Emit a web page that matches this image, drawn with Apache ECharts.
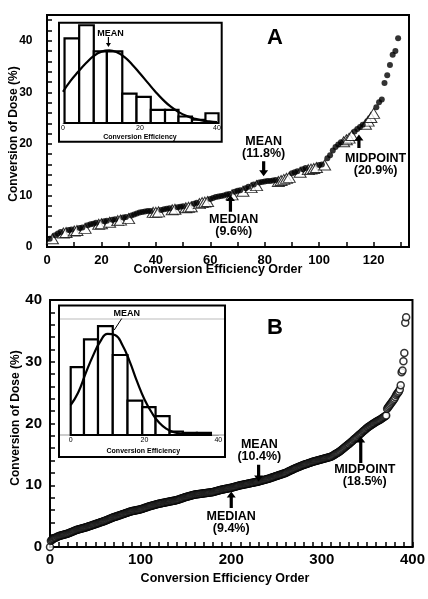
<!DOCTYPE html>
<html><head><meta charset="utf-8">
<script src="https://cdn.jsdelivr.net/npm/echarts/dist/echarts.min.js"></script>
<style>html,body{margin:0;padding:0;background:#fff}#c{width:428px;height:599px}</style>
</head><body><div id="c"></div>
<script>
// ---------- Panel A main scatter (order 1..129) ----------
const aValues = [
 1.6,2.0,2.3,2.6,2.9,3.1,3.2,3.3,3.4,3.5,
 3.6,3.7,3.8,4.0,4.2,4.4,4.5,4.7,4.8,4.9,
 5.0,5.1,5.2,5.3,5.4,5.5,5.6,5.7,5.8,5.9,
 6.1,6.3,6.5,6.7,6.8,6.9,7.0,7.0,7.1,7.1,
 7.2,7.2,7.3,7.4,7.5,7.6,7.7,7.7,7.8,7.9,
 8.0,8.1,8.2,8.4,8.6,8.8,9.0,9.1,9.2,9.3,
 9.5,9.7,9.8,9.9,10.0,10.2,10.3,10.5,10.7,10.9,
 11.0,11.2,11.4,11.7,11.9,12.1,12.3,12.5,12.6,12.7,
 12.8,12.8,12.9,13.0,13.1,13.3,13.5,13.7,13.9,14.3,
 14.5,14.7,14.9,15.1,15.3,15.4,15.5,15.6,15.8,15.9,
 16.0,16.3,17.2,17.8,18.7,19.4,19.9,20.3,20.8,21.2,
 21.5,22.0,22.4,22.9,23.3,23.7,24.2,24.8,25.5,26.3,
 27.1,28.1,28.6,31.8,33.3,35.3,37.3,38.0,40.5
];
const aTriangleOrders = [2,6,7,10,11,14,19,20,23,26,27,30,39,40,41,46,47,51,52,53,56,57,58,59,68,72,75,77,85,86,87,88,89,93,96,97,98,99,102,109,110,111,112,117,118,119,120];

// ---------- Panel A inset histogram ----------
const aBinEdges = [0.4,4.2,8.0,11.4,15.4,19.1,22.8,26.5,30.0,33.5,37.0,40.4];
const aCounts = [26,30,22,22,9,8,4,4,2,1,3];
const aCurveX = [0,2,4,6,8,10,12,14,16,18,20,22,24,26,28,30,32,34,36,38,40];
const aCurveY = [9.6,13.0,15.8,18.4,20.6,21.9,22.3,21.7,20.2,17.9,15.2,12.4,9.6,7.1,5.0,3.4,2.2,1.4,0.8,0.5,0.25];

// ---------- Panel B main scatter (order 0..393) ----------
const bValues = [
 0.0,1.0,1.15,1.25,1.35,1.45,1.5,1.55,1.65,1.7,
 1.8,1.84,1.88,1.92,1.96,2.0,2.04,2.08,2.12,2.16,
 2.2,2.26,2.32,2.38,2.44,2.5,2.56,2.62,2.68,2.74,
 2.8,2.84,2.88,2.92,2.96,3.0,3.04,3.08,3.12,3.16,
 3.2,3.25,3.3,3.35,3.4,3.45,3.5,3.55,3.6,3.65,
 3.7,3.75,3.8,3.85,3.9,3.95,4.0,4.05,4.1,4.15,
 4.2,4.26,4.32,4.38,4.44,4.5,4.56,4.62,4.68,4.74,
 4.8,4.85,4.9,4.95,5.0,5.05,5.1,5.15,5.2,5.25,
 5.3,5.35,5.4,5.45,5.5,5.55,5.6,5.65,5.7,5.75,
 5.8,5.83,5.86,5.89,5.92,5.95,5.98,6.01,6.04,6.07,
 6.1,6.15,6.2,6.25,6.3,6.35,6.4,6.45,6.5,6.55,
 6.6,6.64,6.68,6.72,6.76,6.8,6.84,6.88,6.92,6.96,
 7.0,7.03,7.06,7.09,7.12,7.15,7.18,7.21,7.24,7.27,
 7.3,7.33,7.36,7.39,7.42,7.45,7.48,7.51,7.54,7.57,
 7.6,7.65,7.7,7.75,7.8,7.85,7.9,7.95,8.0,8.05,
 8.1,8.14,8.18,8.22,8.26,8.3,8.34,8.38,8.42,8.46,
 8.5,8.52,8.54,8.56,8.58,8.6,8.62,8.64,8.66,8.68,
 8.7,8.72,8.74,8.76,8.78,8.8,8.82,8.84,8.86,8.88,
 8.9,8.94,8.98,9.02,9.06,9.1,9.14,9.18,9.22,9.26,
 9.3,9.33,9.36,9.39,9.42,9.45,9.48,9.51,9.54,9.57,
 9.6,9.64,9.68,9.72,9.76,9.8,9.84,9.88,9.92,9.96,
 10.0,10.03,10.06,10.09,10.12,10.15,10.18,10.21,10.24,10.27,
 10.3,10.33,10.36,10.39,10.42,10.45,10.48,10.51,10.54,10.57,
 10.6,10.64,10.68,10.72,10.76,10.8,10.84,10.88,10.92,10.96,
 11.0,11.05,11.1,11.15,11.2,11.25,11.3,11.35,11.4,11.45,
 11.5,11.55,11.6,11.65,11.7,11.75,11.8,11.85,11.9,11.95,
 12.0,12.07,12.14,12.21,12.28,12.35,12.42,12.49,12.56,12.63,
 12.7,12.76,12.82,12.88,12.94,13.0,13.06,13.12,13.18,13.24,
 13.3,13.35,13.4,13.45,13.5,13.55,13.6,13.65,13.7,13.75,
 13.8,13.84,13.88,13.92,13.96,14.0,14.04,14.08,14.12,14.16,
 14.2,14.24,14.28,14.32,14.36,14.4,14.44,14.48,14.52,14.56,
 14.6,14.69,14.78,14.87,14.96,15.05,15.14,15.23,15.32,15.41,
 15.5,15.62,15.74,15.86,15.98,16.1,16.22,16.34,16.46,16.58,
 16.7,16.83,16.96,17.09,17.22,17.35,17.48,17.61,17.74,17.87,
 18.0,18.13,18.26,18.39,18.52,18.65,18.78,18.91,19.04,19.17,
 19.3,19.4,19.5,19.6,19.7,19.8,19.9,20.0,20.1,20.2,
 20.3,20.38,20.46,20.54,20.62,20.7,20.8,20.9,21.0,21.1,
 21.2,21.3,22.4,22.6,22.8,23.0,23.2,23.4,23.6,23.8,
 24.0,24.3,24.6,24.8,25.0,25.2,25.5,26.2,28.3,28.6,
 30.1,31.4,36.3,37.2
];

// ---------- Panel B inset histogram ----------
const bBinEdges = [0,3.6,7.4,11.4,15.4,19.4,23.0,26.8,30.4,34.2,38.0];
const bCounts = [61,86,98,72,31,25,17,3,2,2];
const bCurveX = [0,2,4,6,8,10,12,14,16,18,20,22,24,26,28,30,32,34,36,38];
const bCurveY = [27,38,55,71,84,91,90,81,66,48,32,20,11,5.5,2.5,1,0.3,0,0,0];

// ---------- Annotations ----------
const annA = [
 {name:'MEAN', pct:'(11.8%)', tip:[79.6,13.7], tail:-15, dx:0, dy:-35},
 {name:'MEDIAN', pct:'(9.6%)', tip:[67.4,10.1], tail:16.7, dx:3.3, dy:24.3},
 {name:'MIDPOINT', pct:'(20.9%)', tip:[114.6,21.8], tail:13.3, dx:16.7, dy:24.3}
];
const annB = [
 {name:'MEAN', pct:'(10.4%)', tip:[230.2,10.6], tail:-16.7, dx:0.7, dy:-36.7},
 {name:'MEDIAN', pct:'(9.4%)', tip:[200,9.0], tail:16.6, dx:0, dy:25},
 {name:'MIDPOINT', pct:'(18.5%)', tip:[342.9,17.9], tail:26.6, dx:4, dy:33.3}
];

const FONT = '"Liberation Sans", Arial, sans-serif';
const chart = echarts.init(document.getElementById('c'), null, {renderer:'canvas'});

const aCircles = [], aTriangles = [];
aValues.forEach((v,i) => {
  const ord = i + 1;
  if (aTriangleOrders.indexOf(ord) >= 0) aTriangles.push([ord, v]); else aCircles.push([ord, v]);
});
const bPoints = bValues.map((v,i) => [i, v]);
const aBins = aCounts.map((c,i) => [aBinEdges[i], aBinEdges[i+1], c]);
const bBins = bCounts.map((c,i) => [bBinEdges[i], bBinEdges[i+1], c]);

function mainAxis(idx, max, interval, labelEvery, fs, margin) {
  return {
    type:'value', gridIndex: idx, min:0, max:max, interval:interval,
    axisLine:{show:true, onZero:false, lineStyle:{color:'#000', width:2}},
    axisTick:{show:true, inside:true, length:5, lineStyle:{color:'#000', width:1.5}},
    splitLine:{show:false},
    axisLabel:{show:true, margin:margin, color:'#000', fontWeight:'bold', fontSize:fs, fontFamily:FONT,
      formatter: v => (Math.abs(v % labelEvery) < 1e-9) ? String(v) : ''}
  };
}
function histAxisX(idx) {
  return {type:'value', gridIndex:idx, min:0, max:40, interval:20, z:3,
    axisLine:{show:true, onZero:false, lineStyle:{color:'#999', width:1}},
    axisTick:{show:false}, splitLine:{show:false},
    axisLabel:{margin:2, color:'#000', fontSize:7, fontFamily:FONT}};
}
function histAxisY(idx, max) {
  return {type:'value', gridIndex:idx, min:0, max:max, show:false, splitLine:{show:false}};
}
function histSeries(xi, data) {
  return {type:'custom', xAxisIndex:xi, yAxisIndex:xi, z:5, clip:false,
    renderItem:(params, api) => {
      const p0 = api.coord([api.value(0), api.value(2)]);
      const p1 = api.coord([api.value(1), 0]);
      return {type:'rect', shape:{x:p0[0], y:p0[1], width:p1[0]-p0[0], height:p1[1]-p0[1]},
        style:{fill:'#fff', stroke:'#000', lineWidth:2.2}};
    },
    data:data};
}

const option = {
  animation:false,
  backgroundColor:'#fff',
  grid:[
    {left:47, top:15, width:362, height:232, show:true, borderColor:'#000', borderWidth:2, backgroundColor:'transparent'},
    {left:63, top:22, width:154, height:101},
    {left:50, top:300, width:364, height:247, show:true, borderColor:'#000', borderWidth:2, backgroundColor:'transparent'},
    {left:70.7, top:319, width:147.6, height:116}
  ],
  xAxis:[
    mainAxis(0, 133, 10, 20, 13, 7),
    histAxisX(1),
    mainAxis(2, 400, 10, 100, 15, 5),
    histAxisX(3)
  ],
  yAxis:[
    mainAxis(0, 45, 2, 10, 12, 14.5),
    histAxisY(1, 31),
    mainAxis(2, 40, 2, 10, 15, 8),
    histAxisY(3, 104.4)
  ],
  series:[
    {type:'scatter', xAxisIndex:0, yAxisIndex:0, z:3, symbol:'triangle', symbolSize:[12,10], symbolOffset:[0,2],
      itemStyle:{color:'#fff', borderColor:'#000', borderWidth:1}, data:aTriangles},
    {type:'scatter', xAxisIndex:0, yAxisIndex:0, z:4, symbol:'circle', symbolSize:6,
      itemStyle:{color:'#000'}, data:aCircles},
    histSeries(1, aBins),
    {type:'line', xAxisIndex:1, yAxisIndex:1, z:6, smooth:true, showSymbol:false, symbol:'none',
      lineStyle:{color:'#000', width:2.2}, data:aCurveX.map((x,i)=>[x, aCurveY[i]])},
    {type:'scatter', xAxisIndex:2, yAxisIndex:2, z:3, symbol:'circle', symbolSize:7, large:false,
      itemStyle:{color:'#fff', borderColor:'#000', borderWidth:1.5}, data:bPoints},
    histSeries(3, bBins),
    {type:'line', xAxisIndex:3, yAxisIndex:3, z:6, smooth:true, showSymbol:false, symbol:'none',
      lineStyle:{color:'#000', width:2.2}, data:bCurveX.map((x,i)=>[x, bCurveY[i]])}
  ]
};
chart.setOption(option);

// ---------- graphics: inset frames, titles, annotations ----------
const g = [];
function txt(x, y, text, size, weight, rot) {
  g.push({type:'text', x:x, y:y, rotation:rot||0, z:20,
    style:{text:text, fill:'#000', font: (weight||'bold') + ' ' + size + 'px ' + FONT, align:'center', verticalAlign:'middle'}});
}
function arrow(x, yTip, yTail, head, hw, sw) {
  const s = yTail > yTip ? 1 : -1;
  const yb = yTip + s*head;
  g.push({type:'polygon', z:20, shape:{points:[[x,yTip],[x+hw,yb],[x+sw,yb],[x+sw,yTail],[x-sw,yTail],[x-sw,yb],[x-hw,yb]]},
    style:{fill:'#000'}});
}
// inset frames (under histogram series and inset axes)
g.push({type:'rect', z:1, shape:{x:59, y:22.7, width:162.7, height:119}, style:{fill:'#fff', stroke:'#000', lineWidth:2}});
g.push({type:'rect', z:1, shape:{x:59, y:305.5, width:166, height:151.5}, style:{fill:'#fff', stroke:'#000', lineWidth:2}});
g.push({type:'line', z:2, shape:{x1:60, y1:319, x2:224, y2:319}, style:{stroke:'#bbb', lineWidth:1}});
g.push({type:'line', z:2, shape:{x1:60, y1:435, x2:224, y2:435}, style:{stroke:'#999', lineWidth:1}});
// inset x titles
txt(140, 137, 'Conversion Efficiency', 7, 'bold');
txt(143.3, 450.7, 'Conversion Efficiency', 7, 'bold');
// axis titles
txt(218, 269.5, 'Conversion Efficiency Order', 12.5, 'bold');
txt(13.5, 134, 'Conversion of Dose (%)', 12, 'bold', Math.PI/2);
txt(225, 578.5, 'Conversion Efficiency Order', 12.5, 'bold');
txt(16, 418, 'Conversion of Dose (%)', 12, 'bold', Math.PI/2);
// panel letters
txt(275, 38, 'A', 22, 'bold');
txt(275, 328, 'B', 22, 'bold');

function annotate(list, axisIdx) {
  list.forEach(a => {
    const p = chart.convertToPixel({xAxisIndex:axisIdx, yAxisIndex:axisIdx}, a.tip);
    arrow(p[0], p[1], p[1] + a.tail, 6, 4.5, 1.6);
    txt(p[0] + a.dx, p[1] + a.dy, a.name, 12.5, 'bold');
    txt(p[0] + a.dx, p[1] + a.dy + 12, a.pct, 12.5, 'bold');
  });
}
annotate(annA, 0);
annotate(annB, 2);

// inset MEAN markers
const pA = chart.convertToPixel({xAxisIndex:1, yAxisIndex:1}, [11.8, 23.3]);
arrow(pA[0], pA[1], pA[1] - 10, 4, 2.5, 0.6);
txt(pA[0] + 2, pA[1] - 14, 'MEAN', 9, 'bold');
const pB = chart.convertToPixel({xAxisIndex:3, yAxisIndex:3}, [11.8, 94.5]);
g.push({type:'line', z:20, shape:{x1:pB[0], y1:pB[1], x2:pB[0] + 7.5, y2:pB[1] - 11.5}, style:{stroke:'#000', lineWidth:1}});
txt(pB[0] + 12.5, pB[1] - 16.5, 'MEAN', 9, 'bold');

chart.setOption({graphic:{elements:g}});
</script></body></html>
